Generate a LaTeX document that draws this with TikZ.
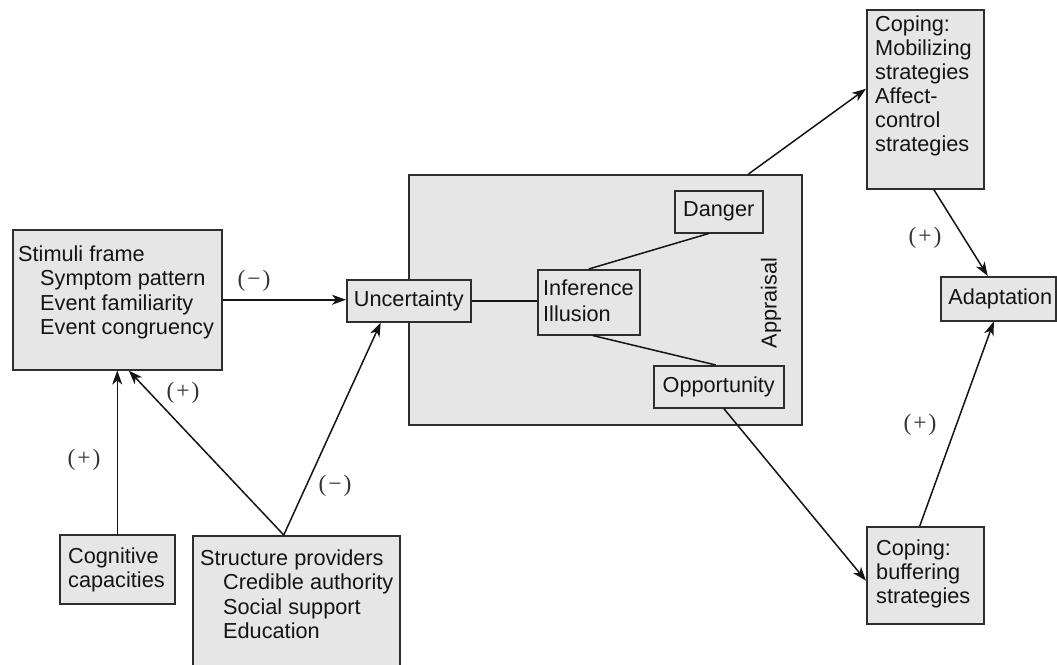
\documentclass[tikz,border=0pt]{standalone}
\usepackage{fontspec}
\setmainfont{Liberation Sans}
\newfontfamily\signfont{Liberation Serif}
\usetikzlibrary{arrows.meta}
\definecolor{ink}{HTML}{141414}
\definecolor{edge}{HTML}{2E2E2E}
\definecolor{boxfill}{HTML}{E6E6E6}
\definecolor{signgrey}{HTML}{333333}
\begin{document}
\begin{tikzpicture}[x=1pt,y=-1pt,
  every node/.style={font=\fontsize{21.7}{24.5}\selectfont, text=ink},
  box/.style={draw=edge, line width=1.5pt, fill=boxfill, inner sep=0pt, anchor=north west},
  txt/.style={inner sep=0pt, anchor=north west, align=left},
  sign/.style={font=\signfont\fontsize{23.5}{26}\selectfont, text=signgrey, inner sep=0pt},
  ln/.style={draw=ink, line width=1.5pt},
  arr/.style={ln, -{Stealth[length=14pt, width=10pt, inset=4pt]}}]
\useasboundingbox (0,0) rectangle (1057,664);

% Appraisal frame and its inner boxes
\node[box, minimum width=393pt, minimum height=250pt] (appr) at (408,174) {};
\node[rotate=90, inner sep=0pt] (apprtxt) at (771,303) {Appraisal};
\node[box, minimum width=88pt, minimum height=42pt] (dan) at (674,190) {Danger};
\node[box, minimum width=102pt, minimum height=65pt] (inf) at (537,269) {};
\node[txt, font=\fontsize{21.7}{26.5}\selectfont] (inftxt) at (543,279.3) {Inference\\Illusion};
\node[box, minimum width=130pt, minimum height=42pt] (opp) at (653,365) {Opportunity};

% Left-hand boxes
\node[box, minimum width=209pt, minimum height=140pt] (stim) at (12,229) {};
\node[txt] (stimtxt) at (18,245.3) {Stimuli frame\\\hspace*{22pt}Symptom pattern\\\hspace*{22pt}Event familiarity\\\hspace*{22pt}Event congruency};
\node[box, minimum width=124pt, minimum height=42pt] (unc) at (346,279) {Uncertainty};
\node[box, minimum width=115pt, minimum height=69pt] (cog) at (59,534) {};
\node[txt] (cogtxt) at (68,547.3) {Cognitive\\capacities};
\node[box, minimum width=207pt, minimum height=150pt] (str) at (192,535) {};
\node[txt] (strtxt) at (200,549.3) {Structure providers\\\hspace*{23pt}Credible authority\\\hspace*{23pt}Social support\\\hspace*{23pt}Education};

% Right-hand boxes
\node[box, minimum width=117pt, minimum height=179pt] (cope) at (866,9) {};
\node[txt, font=\fontsize{21.7}{24}\selectfont] (copetxt) at (875,15.3) {Coping:\\Mobilizing\\strategies\\Affect-\\control\\strategies};
\node[box, minimum width=115pt, minimum height=44pt] (adapt) at (940,276) {\hspace*{4pt}Adaptation};
\node[box, minimum width=117pt, minimum height=97pt] (buf) at (866,526) {};
\node[txt, font=\fontsize{21.7}{24}\selectfont] (buftxt) at (876,539.3) {Coping:\\buffering\\strategies};

% Connectors inside the appraisal
\draw[ln] (unc.east) -- (unc.east -| inf.west);
\draw[ln] (inf.north) -- ([xshift=-10pt]dan.south);
\draw[ln] ([xshift=4pt]inf.south) -- ([xshift=-3pt]opp.north);

% Influence arrows
\draw[arr] (stim.east) -- (stim.east -| unc.west);
\draw[arr] (cog.north) -- (cog.north |- stim.south);
\draw[arr] ([xshift=-12.5pt]str.north) -- ([xshift=11.5pt]stim.south);
\draw[arr] ([xshift=-12.5pt]str.north) -- ([xshift=-28pt]unc.south);
\draw[arr] ([xshift=-54pt]appr.north east) -- ([yshift=10.5pt]cope.west);
\draw[arr] ([xshift=5pt]opp.south) -- ([yshift=-5.5pt]buf.west);
\draw[arr] ([xshift=8.5pt]cope.south) -- ([xshift=-10.5pt]adapt.north);
\draw[arr] ([xshift=-5.5pt]buf.north) -- ([xshift=-4.5pt]adapt.south);

% Signs of the effects
\node[sign] (s1) at (254,281) {(\kern2pt−\kern2pt)};
\node[sign] (s2) at (183,393) {(\kern2pt+\kern2pt)};
\node[sign] (s3) at (84,460) {(\kern2pt+\kern2pt)};
\node[sign] (s4) at (335,486) {(\kern2pt−\kern2pt)};
\node[sign] (s5) at (925,238) {(\kern2pt+\kern2pt)};
\node[sign] (s6) at (920,425) {(\kern2pt+\kern2pt)};
\end{tikzpicture}
\end{document}
